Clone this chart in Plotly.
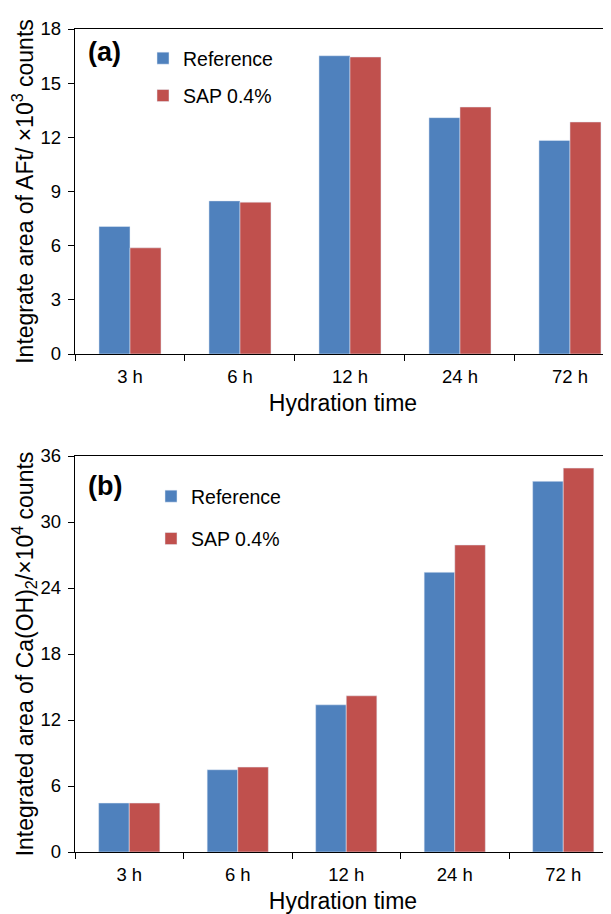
import plotly.graph_objects as go

categories = ["3 h", "6 h", "12 h", "24 h", "72 h"]
aft_reference = [7.06, 8.48, 16.52, 13.09, 11.83]
aft_sap = [5.88, 8.41, 16.45, 13.68, 12.85]
ch_reference = [4.45, 7.48, 13.38, 25.43, 33.7]
ch_sap = [4.45, 7.72, 14.2, 27.91, 34.9]
aft_ticks = [0, 3, 6, 9, 12, 15, 18]
ch_ticks = [0, 6, 12, 18, 24, 30, 36]

BLUE = "#4F81BD"
RED = "#C0504D"
FONT = "Liberation Sans, Arial, Helvetica, sans-serif"
# the page body has an 8px margin, so the figure starts at (8, 8) in the window
OFF = 8
W, H = 611 - OFF, 914 - OFF

def px_x(p):
    return (p - OFF) / W

def px_y(p):
    return 1 - (p - OFF) / H

fig = go.Figure()

fig.add_trace(go.Bar(x=categories, y=aft_reference, name="Reference", marker_color=BLUE,
                     xaxis="x", yaxis="y", legend="legend", legendgroup="a1"))
fig.add_trace(go.Bar(x=categories, y=aft_sap, name="SAP 0.4%", marker_color=RED,
                     xaxis="x", yaxis="y", legend="legend", legendgroup="a2"))
fig.add_trace(go.Bar(x=categories, y=ch_reference, name="Reference", marker_color=BLUE,
                     xaxis="x2", yaxis="y2", legend="legend2", legendgroup="b1"))
fig.add_trace(go.Bar(x=categories, y=ch_sap, name="SAP 0.4%", marker_color=RED,
                     xaxis="x2", yaxis="y2", legend="legend2", legendgroup="b2"))

axis_common = dict(showline=True, linecolor="black", linewidth=1.3, ticks="outside",
                   ticklen=6, tickcolor="black", tickwidth=1.3, showgrid=False, zeroline=False,
                   automargin=False,
                   tickfont=dict(family=FONT, size=18.5, color="black"))

TITLE_FONT = dict(size=23, family=FONT, color="black")

fig.update_layout(
    width=W, height=H,
    margin=dict(l=0, r=0, t=0, b=0, autoexpand=False),
    paper_bgcolor="white", plot_bgcolor="white",
    barmode="group", bargap=0.436, bargroupgap=0,
    font=dict(family=FONT, color="black"),
    showlegend=True,
    xaxis=dict(domain=[px_x(75), 1], anchor="y", type="category", range=[-0.5, 4.373],
               tickson="boundaries", mirror=True, ticklabelstandoff=6,
               title=dict(text="Hydration time", font=TITLE_FONT, standoff=8),
               **axis_common),
    yaxis=dict(domain=[px_y(354), px_y(29)], anchor="x", range=[0, 18], tickvals=aft_ticks,
               ticklabelstandoff=3,
               title=dict(text="Integrate area of AFt/ ×10<sup>3</sup> counts",
                          font=TITLE_FONT, standoff=2),
               **axis_common),
    xaxis2=dict(domain=[px_x(75), 1], anchor="y2", type="category", range=[-0.5, 4.44],
                tickson="boundaries", mirror=True, ticklabelstandoff=6,
                title=dict(text="Hydration time", font=TITLE_FONT, standoff=10),
                **axis_common),
    yaxis2=dict(domain=[px_y(852), px_y(456)], anchor="x2", range=[0, 36], tickvals=ch_ticks,
                ticklabelstandoff=3,
                title=dict(text="Integrated area of Ca(OH)<sub>2</sub>/×10<sup>4</sup> counts",
                           font=TITLE_FONT, standoff=5),
                **axis_common),
    legend=dict(x=px_x(143), y=px_y(39), xanchor="left", yanchor="top",
                font=dict(family=FONT, size=19.5, color="black"), tracegroupgap=9,
                bgcolor="rgba(0,0,0,0)"),
    legend2=dict(x=px_x(151), y=px_y(477), xanchor="left", yanchor="top",
                 font=dict(family=FONT, size=19.5, color="black"), tracegroupgap=14,
                 bgcolor="rgba(0,0,0,0)"),
    annotations=[
        dict(text="<b>(a)</b>", x=px_x(86), y=px_y(52), xref="paper", yref="paper",
             xanchor="left", yanchor="middle", showarrow=False,
             font=dict(family=FONT, size=27, color="black")),
        dict(text="<b>(b)</b>", x=px_x(86), y=px_y(486), xref="paper", yref="paper",
             xanchor="left", yanchor="middle", showarrow=False,
             font=dict(family=FONT, size=27, color="black")),
    ],
)

fig.write_html("out.html")
